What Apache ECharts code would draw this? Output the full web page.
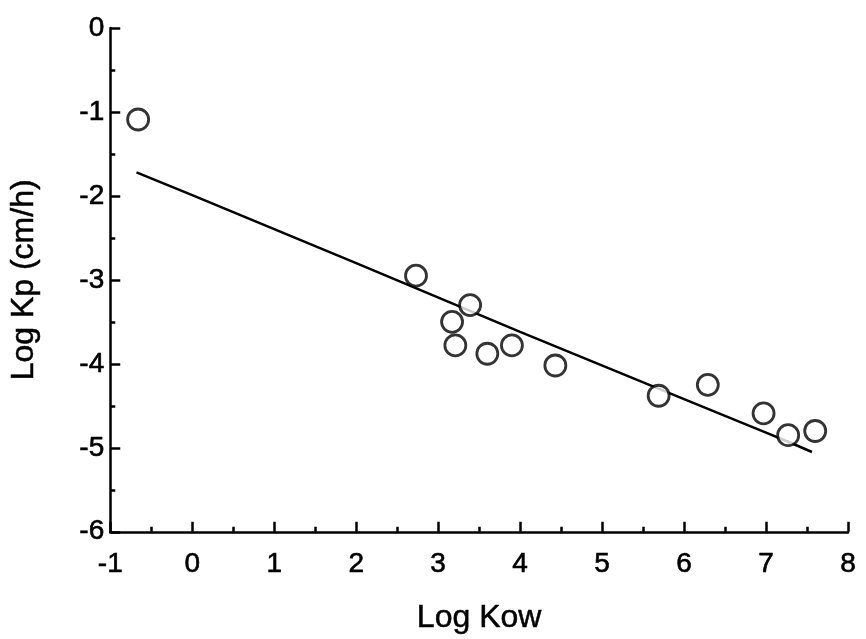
<!DOCTYPE html>
<html>
<head>
<meta charset="utf-8">
<script src="https://cdn.jsdelivr.net/npm/echarts@6/dist/echarts.min.js"></script>
<style>html,body{margin:0;padding:0;background:#fff}#c{width:866px;height:639px}</style>
</head>
<body>
<div id="c"></div>
<script>
// Data
var logKow = [-0.66, 2.73, 3.39, 3.17, 3.21, 3.60, 3.90, 4.43, 5.69, 6.29, 6.97, 7.27, 7.60];
var logKp  = [-1.09, -2.95, -3.30, -3.50, -3.78, -3.88, -3.78, -4.02, -4.38, -4.25, -4.59, -4.85, -4.80];
var fitX = [-0.68, 0.0, 2.0, 4.0, 6.0, 7.0, 7.3, 7.56];
var fitY = [-1.72, -1.99, -2.80, -3.62, -4.42, -4.82, -4.94, -5.05];
var xName = 'Log Kow';
var yName = 'Log Kp (cm/h)';

var pts = logKow.map(function (x, i) { return [x, logKp[i]]; });
var fit = fitX.map(function (x, i) { return [x, fitY[i]]; });

var font = 'Liberation Sans, Arial, sans-serif';
var lbl = {fontFamily: font, fontSize: 28, color: '#000', textBorderColor: '#000', textBorderWidth: 0.6};
var chart = echarts.init(document.getElementById('c'), null, {renderer: 'canvas'});
chart.setOption({
  animation: false,
  backgroundColor: '#fff',
  grid: {left: 108, right: 18, top: 28, bottom: 105, containLabel: false},
  xAxis: {
    type: 'value', min: -1, max: 8, interval: 1,
    name: xName, nameLocation: 'middle', nameGap: 70,
    nameTextStyle: {fontFamily: font, fontSize: 32, color: '#000', textBorderColor: '#000', textBorderWidth: 0.5},
    axisLine: {show: true, onZero: false, lineStyle: {color: '#000', width: 2.5}},
    axisTick: {show: true, inside: true, length: 10, lineStyle: {color: '#000', width: 2.5}},
    minorTick: {show: true, splitNumber: 2, length: 5, lineStyle: {color: '#000', width: 2.5}},
    axisLabel: Object.assign({margin: 19}, lbl),
    splitLine: {show: false}
  },
  yAxis: {
    type: 'value', min: -6, max: 0, interval: 1,
    name: yName, nameLocation: 'middle', nameGap: 70,
    nameTextStyle: {fontFamily: font, fontSize: 32, color: '#000', textBorderColor: '#000', textBorderWidth: 0.5},
    axisLine: {show: true, onZero: false, lineStyle: {color: '#000', width: 2.5}},
    axisTick: {show: true, inside: true, length: 10, lineStyle: {color: '#000', width: 2.5}},
    minorTick: {show: true, splitNumber: 2, length: 5, lineStyle: {color: '#000', width: 2.5}},
    axisLabel: Object.assign({margin: 6}, lbl),
    splitLine: {show: false}
  },
  series: [
    {
      type: 'line', data: fit, showSymbol: false, symbol: 'none',
      lineStyle: {color: '#000', width: 2.5}, z: 2
    },
    {
      type: 'scatter', data: pts, symbol: 'circle', symbolSize: 21,
      itemStyle: {color: '#fff', borderColor: '#000', borderWidth: 2.8}, z: 3
    }
  ]
});
</script>
</body>
</html>
